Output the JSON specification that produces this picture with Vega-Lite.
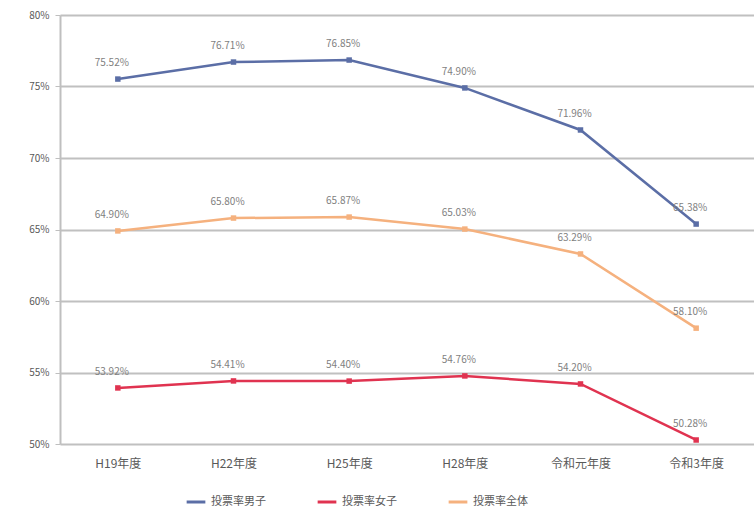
{
  "$schema": "https://vega.github.io/schema/vega-lite/v6.json",
  "autosize": "none",
  "width": 694,
  "height": 429,
  "padding": {"left": 60, "top": 15, "right": 0, "bottom": 69},
  "background": "white",
  "config": {
    "font": "Noto Sans CJK JP",
    "view": {"stroke": null}
  },
  "data": {
    "values": [
      {"year": "H19年度", "series": "投票率男子", "value": 75.52},
      {"year": "H22年度", "series": "投票率男子", "value": 76.71},
      {"year": "H25年度", "series": "投票率男子", "value": 76.85},
      {"year": "H28年度", "series": "投票率男子", "value": 74.90},
      {"year": "令和元年度", "series": "投票率男子", "value": 71.96},
      {"year": "令和3年度", "series": "投票率男子", "value": 65.38},
      {"year": "H19年度", "series": "投票率女子", "value": 53.92},
      {"year": "H22年度", "series": "投票率女子", "value": 54.41},
      {"year": "H25年度", "series": "投票率女子", "value": 54.40},
      {"year": "H28年度", "series": "投票率女子", "value": 54.76},
      {"year": "令和元年度", "series": "投票率女子", "value": 54.20},
      {"year": "令和3年度", "series": "投票率女子", "value": 50.28},
      {"year": "H19年度", "series": "投票率全体", "value": 64.90},
      {"year": "H22年度", "series": "投票率全体", "value": 65.80},
      {"year": "H25年度", "series": "投票率全体", "value": 65.87},
      {"year": "H28年度", "series": "投票率全体", "value": 65.03},
      {"year": "令和元年度", "series": "投票率全体", "value": 63.29},
      {"year": "令和3年度", "series": "投票率全体", "value": 58.10}
    ]
  },
  "encoding": {
    "x": {
      "field": "year", "type": "nominal", "sort": null,
      "scale": {"type": "point", "padding": 0.5},
      "axis": {"title": null, "labelAngle": 0, "ticks": false, "domain": false, "labelPadding": 14, "labelFontSize": 12, "labelColor": "#595959", "grid": false}
    },
    "y": {
      "field": "value", "type": "quantitative",
      "scale": {"domain": [50, 80], "nice": false, "zero": false},
      "axis": {"title": null, "values": [50, 55, 60, 65, 70, 75, 80], "labelExpr": "datum.value + '%'", "labelFontSize": 10, "labelColor": "#595959", "ticks": true, "tickColor": "#bfbfbf", "tickSize": 5, "domainColor": "#bfbfbf", "domainWidth": 2, "gridColor": "#c0c0c0", "gridWidth": 2, "labelPadding": 6}
    },
    "color": {
      "field": "series", "type": "nominal",
      "scale": {"domain": ["投票率男子", "投票率女子", "投票率全体"], "range": ["#5b6ea6", "#e03350", "#f5b17e"]},
      "legend": {"orient": "none", "legendX": 125, "legendY": 476, "direction": "horizontal", "title": null, "symbolType": "stroke", "symbolStrokeWidth": 3, "symbolSize": 350, "labelFontSize": 11, "labelColor": "#595959", "columnPadding": 45}
    }
  },
  "layer": [
    {"mark": {"type": "line", "strokeWidth": 2.5}},
    {"mark": {"type": "point", "filled": true, "shape": "square", "size": 30, "opacity": 1}},
    {
      "mark": {"type": "text", "dy": -16, "dx": -6, "fontSize": 10, "color": "#7f7f7f", "text": {"expr": "format(datum.value, '.2f') + '%'"}},
      "encoding": {
        "color": {"value": "#7f7f7f"}
      }
    }
  ]
}
